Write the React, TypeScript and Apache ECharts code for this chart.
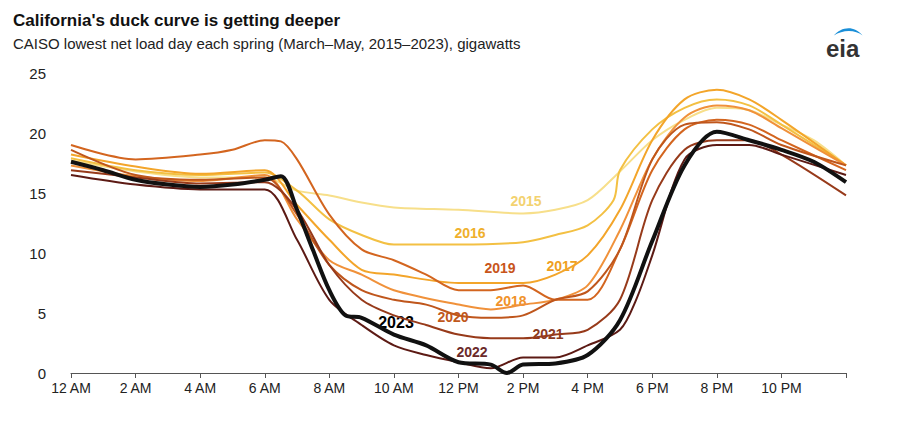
import React, { useEffect, useRef } from "react";
import * as echarts from "echarts";

const years = ["2015", "2016", "2017", "2018", "2019", "2020", "2021", "2022", "2023"];
const colors = ["#f7df8a", "#f3c043", "#f3a52a", "#f0913a", "#d3651f", "#bf561c", "#973a1a", "#5c1a14", "#111111"];

// [hour, gigawatts]
const s2015 = [[0, 17.7], [2, 16.8], [4, 16.3], [6, 16.3], [7, 15.2], [8, 14.8], [9, 14.2], [10, 13.8], [12, 13.6], [14, 13.3], [15, 13.6], [16, 14.4], [17, 16.8], [18, 19.4], [19, 21.1], [20, 22.1], [21, 21.9], [22, 20.7], [23, 19.4], [24, 17.3]];
const s2016 = [[0, 17.9], [2, 16.9], [4, 16.5], [6, 16.7], [7, 15.2], [8, 12.8], [9, 11.5], [10, 10.7], [12, 10.7], [14, 10.9], [15, 11.5], [16, 12.3], [16.8, 14.4], [17, 16.9], [18, 20.3], [19, 22.1], [20, 22.8], [21, 22.3], [22, 20.7], [24, 17.3]];
const s2017 = [[0, 18.2], [2, 17.2], [4, 16.6], [6, 16.9], [7, 14.0], [8, 11.1], [9, 8.6], [10, 8.2], [12, 7.5], [14, 7.5], [15, 8.2], [16, 9.8], [17, 13.6], [18, 19.4], [19, 22.8], [20, 23.6], [21, 22.8], [22, 21.1], [24, 17.3]];
const s2018 = [[0, 17.3], [2, 16.4], [4, 16.0], [6, 16.5], [7, 12.8], [8, 9.4], [9, 8.2], [10, 6.9], [12, 5.7], [13, 5.3], [14, 5.7], [15, 6.1], [16, 7.3], [17, 11.9], [18, 17.8], [19, 21.3], [20, 22.3], [21, 21.9], [22, 20.4], [24, 17.3]];
const s2019 = [[0, 19.0], [2, 17.8], [4, 18.2], [5, 18.6], [6, 19.4], [6.5, 19.3], [7, 17.8], [8, 13.2], [9, 10.3], [10, 9.4], [11, 8.2], [12, 6.9], [13, 6.9], [14, 7.3], [15, 6.1], [16, 6.1], [17, 10.3], [18, 16.9], [19, 20.3], [20, 21.1], [21, 20.7], [22, 19.4], [24, 16.9]];
const s2020 = [[0, 18.6], [2, 16.5], [4, 16.1], [6, 16.3], [7, 13.2], [8, 9.0], [9, 6.9], [10, 6.1], [11, 5.7], [12, 4.8], [13, 4.6], [14, 4.8], [15, 6.1], [16, 6.8], [17, 10.3], [18, 17.8], [19, 20.7], [20, 20.9], [21, 20.3], [22, 19.0], [24, 17.3]];
const s2021 = [[0, 16.9], [2, 16.3], [4, 15.8], [6, 15.9], [7, 13.6], [8, 9.0], [9, 6.1], [10, 4.8], [11, 4.0], [12, 3.2], [13, 2.9], [14, 2.9], [15, 3.2], [16, 3.6], [17, 6.1], [18, 14.4], [19, 18.6], [20, 19.4], [21, 19.4], [22, 18.2], [24, 14.8]];
const s2022 = [[0, 16.5], [2, 15.7], [4, 15.3], [6, 15.3], [7, 11.1], [8, 6.1], [9, 4.0], [10, 2.3], [11, 1.5], [12, 0.9], [13, 0.4], [14, 1.3], [15, 1.3], [16, 2.3], [17, 3.6], [17.5, 6.1], [18, 9.8], [19, 17.8], [20, 19.0], [21, 19.0], [22, 18.2], [24, 16.5]];
const s2023 = [[0, 17.6], [1, 16.9], [2, 16.1], [3, 15.7], [4, 15.5], [5, 15.7], [6, 16.1], [6.5, 16.4], [7, 13.6], [7.5, 10.2], [8, 6.9], [8.5, 4.8], [9, 4.6], [10, 3.2], [11, 2.3], [12, 0.9], [13, 0.7], [13.5, 0.0], [14, 0.7], [15, 0.8], [16, 1.5], [17, 4.4], [18, 11.0], [19, 17.3], [20, 20.1], [21, 19.4], [22, 18.6], [23, 17.6], [24, 15.9]];
const seriesData = [s2015, s2016, s2017, s2018, s2019, s2020, s2021, s2022, s2023];

const hourLabels = ["12 AM", "2 AM", "4 AM", "6 AM", "8 AM", "10 AM", "12 PM", "2 PM", "4 PM", "6 PM", "8 PM", "10 PM"];

// label positions for each year's annotation
const labelPos = [[526, 201], [470, 233], [562, 266], [511, 301], [500, 268], [453, 317], [548, 334], [472, 352], [396, 322]];
const labelColors = ["#f3d270", "#efb02c", "#ef9f1e", "#f0922a", "#c8551a", "#c0581c", "#8b3a1e", "#6b2a2a", "#000000"];

const eiaLogo = "M2 8 C10 1 24 -1 34 8 C26 3 12 3 2 8 Z";

const App: React.FC = () => {
  const chartRef = useRef<HTMLDivElement>(null);

  useEffect(() => {
    if (!chartRef.current) return;
    echarts.graphic.registerShape("eiaArc", echarts.graphic.extendPath(eiaLogo, {}));
    const chart = echarts.init(chartRef.current, null, { renderer: "svg" });
    const font = "'Liberation Sans', Arial, sans-serif";

    chart.setOption({
      animation: false,
      textStyle: { fontFamily: font },
      grid: { left: 71, right: 54, top: 73, bottom: 48 },
      xAxis: {
        type: "value",
        min: 0,
        max: 24,
        interval: 2,
        axisLine: { lineStyle: { color: "#555" } },
        axisTick: { show: true, length: 5, lineStyle: { color: "#555" } },
        splitLine: { show: false },
        axisLabel: {
          color: "#222",
          fontSize: 14,
          fontFamily: font,
          margin: 8,
          formatter: (v: number) => (v < 24 ? hourLabels[v / 2] : ""),
        },
      },
      yAxis: {
        type: "value",
        min: 0,
        max: 25,
        interval: 5,
        axisLine: { show: false },
        axisTick: { show: false },
        splitLine: { show: false },
        axisLabel: { color: "#222", fontSize: 15, fontFamily: font, margin: 25 },
      },
      series: years.map((y, i) => ({
        name: y,
        type: "line",
        data: seriesData[i],
        symbol: "none",
        smooth: 0.3,
        z: i === 8 ? 10 : 2,
        lineStyle: { color: colors[i], width: i === 8 ? 4 : 2 },
      })),
      graphic: [
        { type: "text", left: 13, top: 12, style: { text: "California's duck curve is getting deeper", font: `bold 17px ${font}`, fill: "#111" } },
        { type: "text", left: 13, top: 36, style: { text: "CAISO lowest net load day each spring (March\u2013May, 2015\u20132023), gigawatts", font: `15px ${font}`, fill: "#222" } },
        { type: "text", left: 826, top: 36, style: { text: "eia", font: `bold 24px ${font}`, fill: "#333" } },
        { type: "eiaArc", x: 832, y: 26, scaleX: 0.9, scaleY: 1.2, style: { fill: "#1a8fd8" } },
        ...years.map((y, i) => ({
          type: "text",
          x: labelPos[i][0],
          y: labelPos[i][1],
          style: {
            text: y,
            font: `bold ${i === 8 ? 16 : 14}px ${font}`,
            fill: labelColors[i],
            align: "center",
            verticalAlign: "middle",
          },
        })),
      ],
    });

    return () => chart.dispose();
  }, []);

  return <div ref={chartRef} style={{ width: 900, height: 421, margin: -8 }} />;
};

export default App;
